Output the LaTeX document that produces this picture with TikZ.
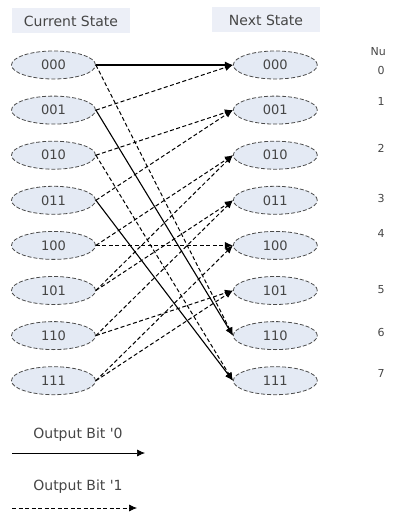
\documentclass[tikz,border=0pt]{standalone}
\usepackage{fontspec}
\setmainfont{DejaVu Sans}
\usetikzlibrary{arrows.meta,positioning,shapes.geometric}
\definecolor{statefill}{RGB}{228,234,244}
\definecolor{headfill}{RGB}{236,239,247}
\definecolor{labelgray}{RGB}{70,70,70}
\tikzset{
  statenode/.style={
    ellipse,
    draw=black!70,
    dash pattern=on 4pt off 2pt,
    line width=0.8pt,
    fill=statefill,
    minimum width=84pt,
    minimum height=28pt,
    inner sep=0pt,
    text=labelgray,
    font=\fontsize{13}{15}\selectfont
  },
  headnode/.style={
    rectangle,
    fill=headfill,
    minimum height=25pt,
    text=labelgray,
    font=\fontsize{14}{16}\selectfont
  },
  numlabel/.style={
    text=labelgray,
    font=\fontsize{11}{13}\selectfont
  },
  legendtext/.style={
    text=labelgray,
    font=\fontsize{14}{16}\selectfont
  },
  bitzero/.style={
    -{Latex[length=8pt,width=7pt]},
    line width=1.1pt,
    draw=black
  },
  bitone/.style={
    -{Latex[length=8pt,width=7pt]},
    line width=1pt,
    draw=black,
    dash pattern=on 4pt off 2.5pt
  }
}
\begin{document}
\begin{tikzpicture}[x=1pt,y=-1pt,node distance=16.3pt and 137pt]
\useasboundingbox (0,0) rectangle (395,518);

% column headings
\node[headnode, minimum width=118pt] (curhead) at (71,21) {Current State};
\node[headnode, minimum width=108pt] (nexthead) at (266,20) {Next State};
\node[numlabel, anchor=west] (numhead) at (367,52) {Nu};

% current states
\node[statenode] (c000) at (53.5,65) {000};
\node[statenode, below=of c000] (c001) {001};
\node[statenode, below=of c001] (c010) {010};
\node[statenode, below=of c010] (c011) {011};
\node[statenode, below=of c011] (c100) {100};
\node[statenode, below=of c100] (c101) {101};
\node[statenode, below=of c101] (c110) {110};
\node[statenode, below=of c110] (c111) {111};

% next states
\node[statenode, right=of c000] (n000) {000};
\node[statenode, below=of n000] (n001) {001};
\node[statenode, below=of n001] (n010) {010};
\node[statenode, below=of n010] (n011) {011};
\node[statenode, below=of n011] (n100) {100};
\node[statenode, below=of n100] (n101) {101};
\node[statenode, below=of n101] (n110) {110};
\node[statenode, below=of n110] (n111) {111};

% state numbers
\node[numlabel] (num0) at (381,70) {0};
\node[numlabel] (num1) at (381,101) {1};
\node[numlabel] (num2) at (381,148) {2};
\node[numlabel] (num3) at (381,198) {3};
\node[numlabel] (num4) at (381,233) {4};
\node[numlabel] (num5) at (381,290) {5};
\node[numlabel] (num6) at (381,332) {6};
\node[numlabel] (num7) at (381,373) {7};

% transitions
\draw[bitzero] (c000.east) -- (n000.west);
\draw[bitone] (c000.east) -- (n110.west);
\draw[bitone] (c001.east) -- (n000.west);
\draw[bitzero] (c001.east) -- (n110.west);
\draw[bitone] (c010.east) -- (n001.west);
\draw[bitone] (c010.east) -- (n111.west);
\draw[bitone] (c011.east) -- (n001.west);
\draw[bitzero] (c011.east) -- (n111.west);
\draw[bitone] (c100.east) -- (n010.west);
\draw[bitone] (c100.east) -- (n100.west);
\draw[bitone] (c101.east) -- (n010.west);
\draw[bitone] (c101.east) -- (n011.west);
\draw[bitone] (c110.east) -- (n011.west);
\draw[bitone] (c110.east) -- (n101.west);
\draw[bitone] (c111.east) -- (n101.west);
\draw[bitone] (c111.east) -- (n100.west);

% legend
\node[legendtext] (zerotext) at (78,435) {Output Bit \textquotesingle0};
\coordinate (zerostart) at (12,453);
\coordinate (zeroend) at (145,453);
\draw[bitzero, line width=0.7pt] (zerostart) -- (zeroend);
\node[legendtext] (onetext) at (78,487) {Output Bit \textquotesingle1};
\coordinate (onestart) at (12,508);
\coordinate (oneend) at (137,508);
\draw[bitone, line width=0.7pt] (onestart) -- (oneend);
\end{tikzpicture}
\end{document}
